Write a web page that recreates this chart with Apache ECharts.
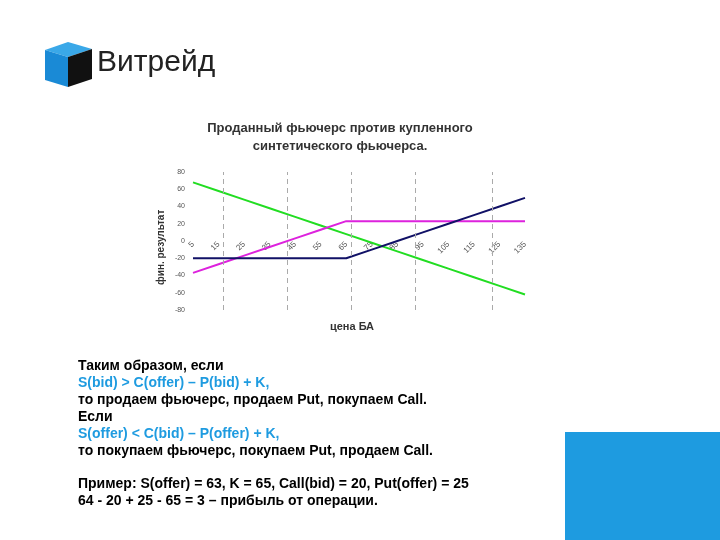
<!DOCTYPE html><html><head><meta charset="utf-8"><script src="https://cdn.jsdelivr.net/npm/echarts@6/dist/echarts.min.js"></script>
<style>body{margin:0;background:#fff}#c{width:720px;height:540px}</style></head><body><div id="c"></div><script>
const categories=['5','15','25','35','45','55','65','75','85','95','105','115','125','135'];
const soldFuture=[68,58,48,38,28,18,8,-2,-12,-22,-32,-42,-52,-62];
const synthetic=[-37,-27,-17,-7,3,13,23,23,23,23,23,23,23,23];
const longCall=[-20,-20,-20,-20,-20,-20,-20,-10,0,10,20,30,40,50];
const gridPrices=[17,42,67,92,122];
const textLines=[['Таким образом, если','#000'],['S(bid) > C(offer) – P(bid) + K,','#1e9be0'],['то продаем фьючерс, продаем Put, покупаем Call.','#000'],['Если','#000'],['S(offer) < C(bid) – P(offer) + K,','#1e9be0'],['то покупаем фьючерс, покупаем Put, продаем Call.','#000']];
const exampleLines=['Пример: S(offer) = 63, K = 65, Call(bid) = 20, Put(offer) = 25','64 - 20 + 25 - 65 = 3 – прибыль от операции.'];
const ch=echarts.init(document.getElementById('c'));
const F='bold 14px "Liberation Sans", Arial';
const g=[
 {type:'rect',shape:{x:565,y:432,width:160,height:120},style:{fill:'#1e9be0'}},
 {type:'polygon',shape:{points:[[45,50],[68,42],[92,49],[68,57]]},style:{fill:'#3aa8e8'}},
 {type:'polygon',shape:{points:[[45,50],[68,57],[68,87],[45,80]]},style:{fill:'#1a8ad6'}},
 {type:'polygon',shape:{points:[[68,57],[92,49],[92,79],[68,87]]},style:{fill:'#111'}},
 {type:'text',x:97,y:48,style:{text:'Витрейд',font:'30px "Liberation Sans", Arial',fill:'#222'}},
 {type:'text',x:340,y:119,style:{text:'Проданный фьючерс против купленного\nсинтетического фьючерса.',font:'bold 13px "Liberation Sans", Arial',fill:'#333',align:'center',lineHeight:18}},
 {type:'text',x:352,y:321,style:{text:'цена БА',font:'bold 11px "Liberation Sans", Arial',fill:'#333',align:'center'}},
 {type:'text',x:156,y:285,rotation:Math.PI/2,style:{text:'фин. результат',font:'bold 10px "Liberation Sans", Arial',fill:'#333'}},
];
textLines.forEach((t,i)=>g.push({type:'text',left:78,top:359+i*17,style:{text:t[0],font:F,fill:t[1]}}));
exampleLines.forEach((t,i)=>g.push({type:'text',left:78,top:477+i*17,style:{text:t,font:F,fill:'#000'}}));
ch.setOption({animation:false,graphic:g,
 grid:{left:193,right:195,top:172,bottom:230},
 xAxis:[{type:'category',data:categories,boundaryGap:false,axisLine:{show:false,onZero:false},offset:-69,axisTick:{show:false},
   axisLabel:{rotate:45,fontSize:8,color:'#555',margin:2}},
  {type:'value',min:5,max:135,show:false,splitLine:{show:false}}],
 yAxis:{type:'value',min:-80,max:80,interval:20,splitLine:{show:false},axisLine:{show:false},axisTick:{show:false},
   axisLabel:{fontSize:7,color:'#555'}},
 series:[
  {type:'line',xAxisIndex:1,data:[],markLine:{silent:true,symbol:'none',label:{show:false},lineStyle:{type:[5,4],color:'#aaa',width:1},data:gridPrices.map(v=>({xAxis:v}))}},
  {type:'line',data:soldFuture,symbol:'none',lineStyle:{color:'#22dd22',width:2}},
  {type:'line',data:synthetic,symbol:'none',lineStyle:{color:'#dd22dd',width:2}},
  {type:'line',data:longCall,symbol:'none',lineStyle:{color:'#111166',width:2}}
 ]});
</script></body></html>
